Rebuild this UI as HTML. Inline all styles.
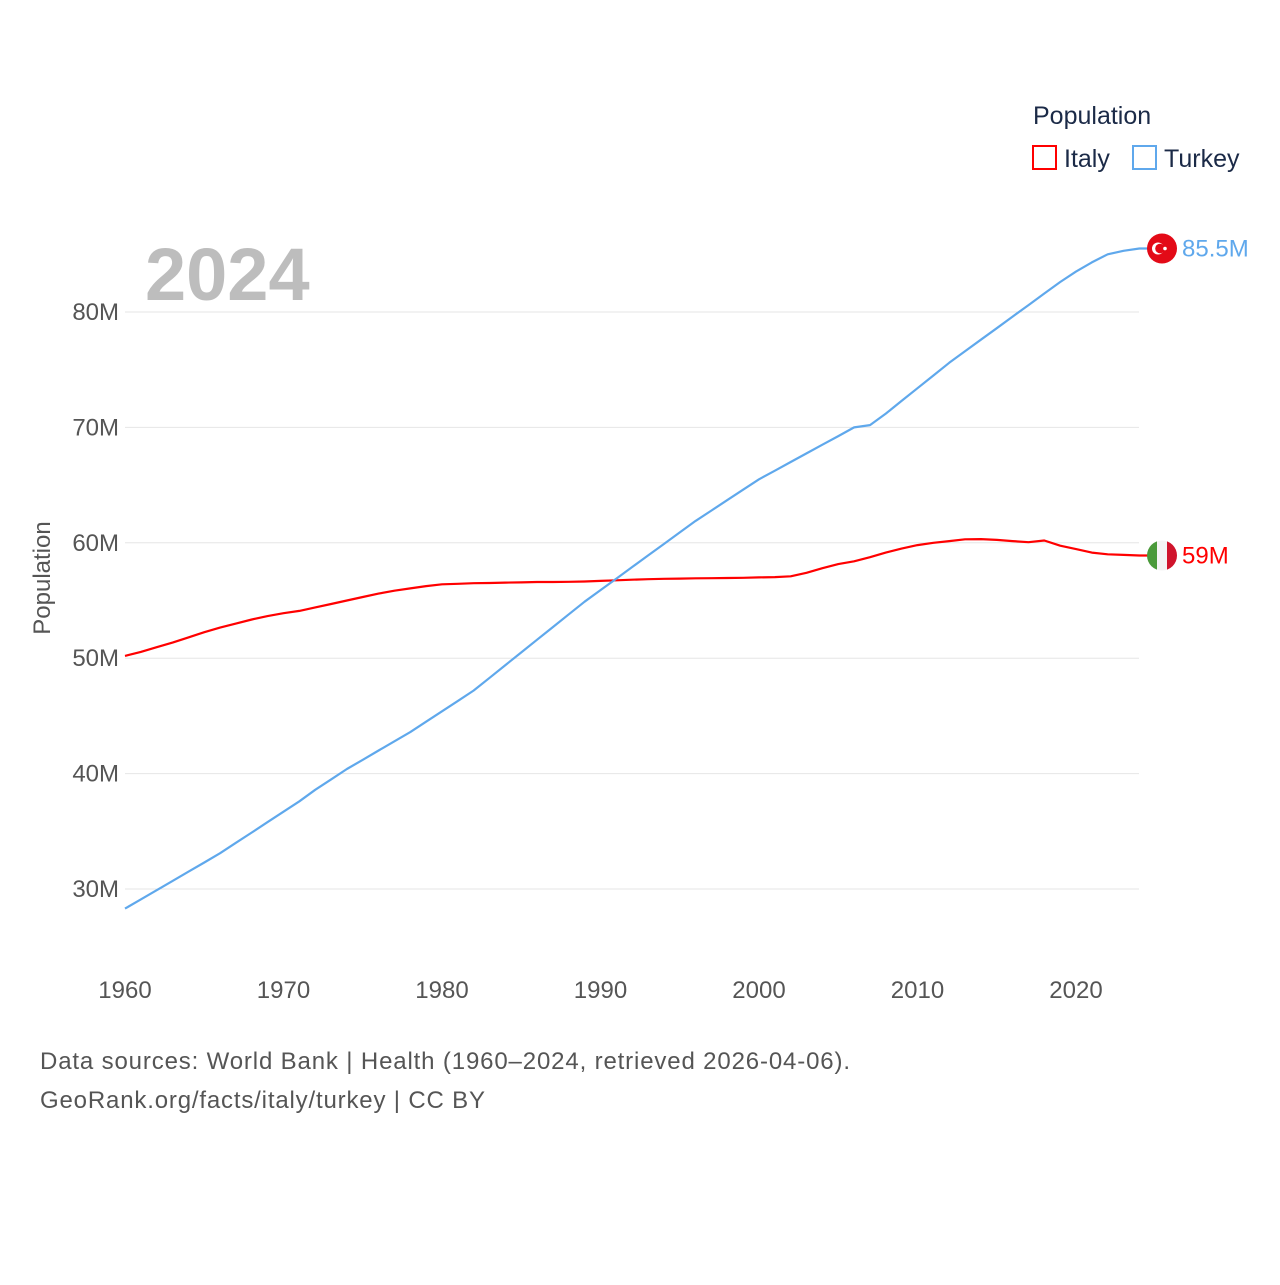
<!DOCTYPE html>
<html><head><meta charset="utf-8"><style>
body{margin:0;background:#fff;font-family:"Liberation Sans",sans-serif}
svg text{font-family:"Liberation Sans",sans-serif}
</style></head><body>
<svg id="chart" width="1280" height="1280" xmlns="http://www.w3.org/2000/svg">
<g id="grid"></g><g id="lines"></g>
<text x="1033" y="124" font-size="25" fill="#1b2a47">Population</text>
<rect x="1033" y="146" width="23" height="23" fill="none" stroke="#ff0000" stroke-width="2"/>
<text x="1064" y="167" font-size="25" fill="#1b2a47">Italy</text>
<rect x="1133" y="146" width="23" height="23" fill="none" stroke="#5fa8ec" stroke-width="2"/>
<text x="1164" y="167" font-size="25" fill="#1b2a47">Turkey</text>
<text x="145" y="300" font-size="74" font-weight="bold" fill="#bdbdbd">2024</text>
<text transform="translate(50,578) rotate(-90)" text-anchor="middle" font-size="24" fill="#555">Population</text>
<text x="40" y="1069" font-size="24" fill="#555" textLength="810" lengthAdjust="spacing">Data sources: World Bank | Health (1960–2024, retrieved 2026-04-06).</text>
<text x="40" y="1108" font-size="24" fill="#555" textLength="445" lengthAdjust="spacing">GeoRank.org/facts/italy/turkey | CC BY</text>
</svg>
<script>
const years=[];for(let y=1960;y<=2024;y++)years.push(y);
const italy=[50.2,50.55,50.95,51.35,51.8,52.25,52.65,53.0,53.35,53.65,53.9,54.1,54.4,54.7,55.0,55.3,55.6,55.85,56.05,56.25,56.4,56.45,56.5,56.52,56.55,56.57,56.6,56.6,56.62,56.65,56.7,56.75,56.8,56.85,56.88,56.9,56.92,56.93,56.95,56.97,57.0,57.03,57.1,57.4,57.8,58.15,58.4,58.75,59.15,59.5,59.8,60.0,60.15,60.3,60.32,60.25,60.15,60.05,60.2,59.75,59.45,59.15,59.0,58.95,58.9];
const turkey=[28.3,29.1,29.9,30.7,31.5,32.3,33.1,34.0,34.9,35.8,36.7,37.6,38.6,39.5,40.4,41.2,42.0,42.8,43.6,44.5,45.4,46.3,47.2,48.3,49.4,50.5,51.6,52.7,53.8,54.9,55.9,56.9,57.9,58.9,59.9,60.9,61.9,62.8,63.7,64.6,65.5,66.25,67.0,67.75,68.5,69.25,70.0,70.2,71.2,72.3,73.4,74.5,75.6,76.6,77.6,78.6,79.6,80.6,81.6,82.6,83.5,84.3,85.0,85.3,85.5];
const yTicks=[30,40,50,60,70,80];
const xTicks=[1960,1970,1980,1990,2000,2010,2020];
const NS='http://www.w3.org/2000/svg';
const X=y=>125+(y-1960)*(1076-125)/60;
const Y=v=>889-(v-30)*(889-312)/50;
const grid=document.getElementById('grid'),lines=document.getElementById('lines');
function mk(tag,attrs,parent,txt){const e=document.createElementNS(NS,tag);for(const k in attrs)e.setAttribute(k,attrs[k]);if(txt!==undefined)e.textContent=txt;parent.appendChild(e);return e;}
yTicks.forEach(t=>{
 const l=mk('line',{x1:125,x2:1139,y1:Y(t),y2:Y(t),stroke:'#e6e6e6','stroke-width':1},grid);
 
 
 const tx=mk('text',{x:119,y:Y(t)+8,'text-anchor':'end','font-size':24,fill:'#555'},grid,t+'M');
 
 
});
xTicks.forEach(t=>{
 const tx=mk('text',{x:X(t),y:998,'text-anchor':'middle','font-size':24,fill:'#555'},grid,String(t));
 
 
});
function series(vals,color,name){
 const d=vals.map((v,i)=>(i?'L':'M')+X(years[i]).toFixed(1)+','+Y(v).toFixed(1)).join(' ')+' L1148,'+Y(vals[vals.length-1]).toFixed(1);
 const p=mk('path',{d:d,fill:'none',stroke:color,'stroke-width':2.2,'stroke-linejoin':'round'},lines);
 
 
}
series(italy,'#ff0000','italy');
series(turkey,'#5fa8ec','turkey');
const yi=Y(italy[italy.length-1]),yt=Y(turkey[turkey.length-1]);
const tf=mk('g',{},lines);


mk('circle',{cx:1162,cy:yt,r:15,fill:'#e30a17'},tf);
mk('circle',{cx:1158,cy:yt,r:6,fill:'#fff'},tf);
mk('circle',{cx:1160,cy:yt,r:4.8,fill:'#e30a17'},tf);
mk('circle',{cx:1165,cy:yt,r:1.8,fill:'#fff'},tf);
const tl=mk('text',{x:1182,y:yt+8,'font-size':24,fill:'#5fa8ec'},lines,'85.5M');


const itf=mk('g',{},lines);


mk('clipPath',{id:'ic'},itf);
mk('circle',{cx:1162,cy:yi,r:15},document.getElementById('ic'));
const gg=mk('g',{'clip-path':'url(#ic)'},itf);
mk('rect',{x:1147,y:yi-15,width:10,height:30,fill:'#4a9a3a'},gg);
mk('rect',{x:1157,y:yi-15,width:10,height:30,fill:'#f4f4f4'},gg);
mk('rect',{x:1167,y:yi-15,width:10,height:30,fill:'#d0142c'},gg);
const il=mk('text',{x:1182,y:yi+8,'font-size':24,fill:'#ff0000'},lines,'59M');


</script>
</body></html>
